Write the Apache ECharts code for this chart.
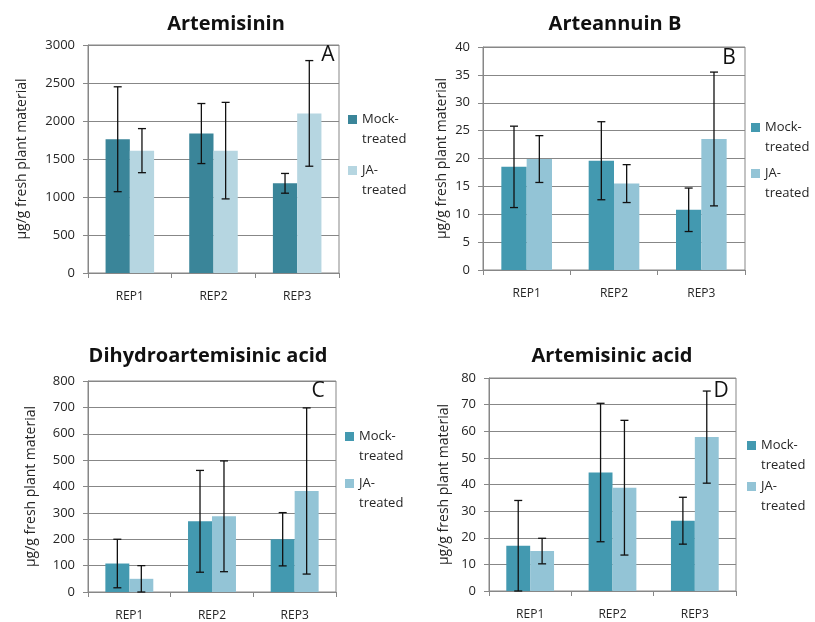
<!DOCTYPE html>
<html>
<head>
<meta charset="utf-8">
<script src="https://cdn.jsdelivr.net/npm/echarts@6/dist/echarts.min.js"></script>
<style>
html,body{margin:0;padding:0;background:#fff;}
#chart{width:815px;height:622px;}
</style>
</head>
<body>
<div id="chart"></div>
<script>
// ---- data ----
const categories = ['REP1', 'REP2', 'REP3'];
const panelTitles = ['Artemisinin', 'Arteannuin B', 'Dihydroartemisinic acid', 'Artemisinic acid'];
const panelLetters = ['A', 'B', 'C', 'D'];
const seriesNames = ['Mock-\ntreated', 'JA-\ntreated'];
const yLabel = 'µg/g fresh plant material';

const artemisininMock = [1760, 1835, 1180];
const artemisininMockErr = [690, 395, 130];
const artemisininJA = [1610, 1610, 2100];
const artemisininJAErr = [290, 635, 695];

const arteannuinMock = [18.5, 19.6, 10.8];
const arteannuinMockErr = [7.3, 7.0, 3.9];
const arteannuinJA = [19.9, 15.5, 23.5];
const arteannuinJAErr = [4.2, 3.4, 12.0];

const dhaaMock = [108, 268, 200];
const dhaaMockErr = [92, 193, 101];
const dhaaJA = [50, 287, 383];
const dhaaJAErr = [50, 210, 315];

const aaMock = [17, 44.5, 26.4];
const aaMockErr = [17, 26, 8.8];
const aaJA = [15, 38.8, 57.8];
const aaJAErr = [4.8, 25.3, 17.3];

const yMax = [3000, 40, 800, 80];
const yInterval = [500, 5, 100, 10];

// ---- layout / style ----
const panels = [
  {mock: artemisininMock, mockErr: artemisininMockErr, ja: artemisininJA, jaErr: artemisininJAErr,
   grid: {left: 88, top: 45, width: 251, height: 228}, colors: ['#3a8599', '#b6d6e1'],
   title: {x: 226, y: 14}, letter: {x: 328, y: 45}, nameGap: 59,
   legend: [{x: 348, y: 119}, {x: 348, y: 170}]},
  {mock: arteannuinMock, mockErr: arteannuinMockErr, ja: arteannuinJA, jaErr: arteannuinJAErr,
   grid: {left: 483, top: 47, width: 262, height: 223}, colors: ['#4399b0', '#93c4d6'],
   title: {x: 615, y: 14}, letter: {x: 729, y: 48}, nameGap: 34,
   legend: [{x: 751, y: 127}, {x: 751, y: 173}]},
  {mock: dhaaMock, mockErr: dhaaMockErr, ja: dhaaJA, jaErr: dhaaJAErr,
   grid: {left: 88, top: 381, width: 248, height: 212}, colors: ['#4399b0', '#93c4d6'],
   title: {x: 208, y: 346}, letter: {x: 318, y: 381}, nameGap: 50,
   legend: [{x: 345, y: 436}, {x: 345, y: 483}]},
  {mock: aaMock, mockErr: aaMockErr, ja: aaJA, jaErr: aaJAErr,
   grid: {left: 489, top: 378, width: 247, height: 213}, colors: ['#4399b0', '#93c4d6'],
   title: {x: 612, y: 346}, letter: {x: 721, y: 381}, nameGap: 38,
   legend: [{x: 747, y: 445}, {x: 747, y: 486}]}
];

const FONT = 'Open Sans';
const LH = 20;
const gray = '#878787';
const textCol = '#262626';

const option = {
  animation: false,
  backgroundColor: '#ffffff',
  textStyle: {fontFamily: FONT},
  title: [], grid: [], xAxis: [], yAxis: [], legend: [], series: []
};

function errorSeries(p, idx, which, values, errs) {
  const data = values.map((v, i) => [i, Math.max(0, v - errs[i]), v + errs[i]]);
  const sign = which === 0 ? -1 : 1;
  return {
    type: 'custom',
    xAxisIndex: idx, yAxisIndex: idx,
    silent: true,
    z: 10,
    data: data,
    renderItem: function (params, api) {
      const ci = api.value(0);
      const catW = api.size([1, 0])[0];
      const cx = api.coord([ci, 0])[0] + sign * catW * 0.145;
      const yTop = api.coord([ci, api.value(2)])[1];
      const yBot = api.coord([ci, api.value(1)])[1];
      const cap = 4;
      const st = {stroke: '#111', lineWidth: 1.3};
      return {
        type: 'group',
        children: [
          {type: 'line', shape: {x1: cx, y1: yTop, x2: cx, y2: yBot}, style: st},
          {type: 'line', shape: {x1: cx - cap, y1: yTop, x2: cx + cap, y2: yTop}, style: st},
          {type: 'line', shape: {x1: cx - cap, y1: yBot, x2: cx + cap, y2: yBot}, style: st}
        ]
      };
    }
  };
}

panels.forEach((p, idx) => {
  option.title.push({
    text: panelTitles[idx], left: p.title.x, top: p.title.y, textAlign: 'center', padding: 0,
    textStyle: {fontFamily: FONT, fontSize: 20, fontWeight: 'bold', color: '#111'}
  });
  option.title.push({
    text: panelLetters[idx], left: p.letter.x, top: p.letter.y, textAlign: 'center', padding: 0,
    textStyle: {fontFamily: FONT, fontSize: 21, fontWeight: 'normal', color: '#111'}
  });
  option.grid.push(Object.assign({show: true, borderColor: gray, borderWidth: 1, backgroundColor: '#fff'}, p.grid));
  option.xAxis.push({
    type: 'category', gridIndex: idx, data: categories,
    axisLine: {lineStyle: {color: gray}},
    axisTick: {show: true, length: 5, alignWithLabel: false, lineStyle: {color: gray}},
    axisLabel: {margin: 18, fontSize: 12, color: textCol, fontFamily: FONT}
  });
  option.yAxis.push({
    type: 'value', gridIndex: idx, min: 0, max: yMax[idx], interval: yInterval[idx],
    name: yLabel, nameLocation: 'middle', nameGap: p.nameGap,
    nameTextStyle: {fontSize: 14, color: textCol, fontFamily: FONT},
    axisLine: {show: true, lineStyle: {color: gray}},
    axisTick: {show: true, length: 5, lineStyle: {color: gray}},
    axisLabel: {margin: 13, fontSize: 13, color: textCol, fontFamily: FONT,
                formatter: v => String(v)},
    splitLine: {show: true, lineStyle: {color: gray, width: 1}}
  });
  seriesNames.forEach((nm, k) => {
    option.legend.push({
      data: [{name: nm, itemStyle: {color: p.colors[k]}}],
      left: p.legend[k].x, top: p.legend[k].y - 6,
      orient: 'vertical', padding: 0, selectedMode: false,
      itemWidth: 9, itemHeight: 9, icon: 'rect',
      formatter: n => n.split('\n').map(s => '{a|' + s + '}').join('\n'),
      textStyle: {fontFamily: FONT, fontSize: 13, color: textCol, padding: [LH, 0, 0, 0],
                  rich: {a: {fontFamily: FONT, fontSize: 13, color: textCol, lineHeight: LH}}}
    });
  });
  option.series.push({
    name: seriesNames[0], type: 'bar', xAxisIndex: idx, yAxisIndex: idx,
    data: p.mock, barWidth: '29%', barGap: '0%', itemStyle: {color: p.colors[0]}, silent: true
  });
  option.series.push({
    name: seriesNames[1], type: 'bar', xAxisIndex: idx, yAxisIndex: idx,
    data: p.ja, barWidth: '29%', barGap: '0%', itemStyle: {color: p.colors[1]}, silent: true
  });
  option.series.push(errorSeries(p, idx, 0, p.mock, p.mockErr));
  option.series.push(errorSeries(p, idx, 1, p.ja, p.jaErr));
});

const chart = echarts.init(document.getElementById('chart'), null, {renderer: 'canvas'});
chart.setOption(option);
</script>
</body>
</html>
